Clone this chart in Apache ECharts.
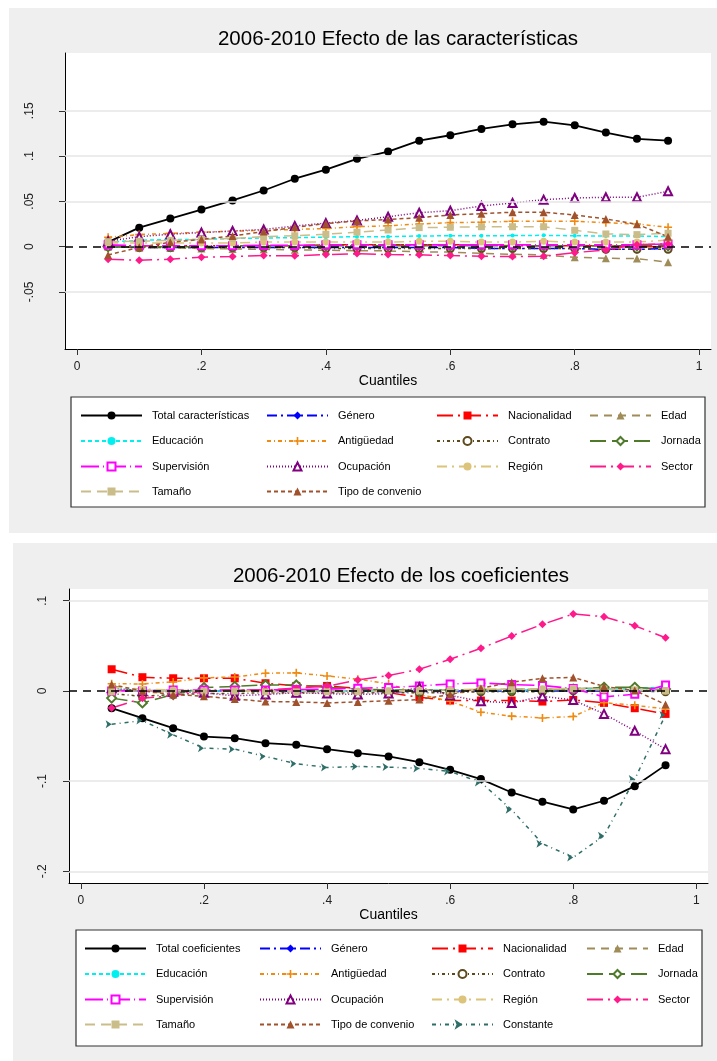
<!DOCTYPE html>
<html>
<head>
<meta charset="utf-8">
<script src="https://cdn.jsdelivr.net/npm/echarts@6/dist/echarts.min.js"></script>
<style>
  html, body { margin: 0; padding: 0; background: #ffffff; }
  #chart { width: 717px; height: 1061px; }
</style>
</head>
<body>
<div id="chart"></div>
<script>
// Quantiles at which each decomposition term is evaluated
const quantiles = [0.05, 0.10, 0.15, 0.20, 0.25, 0.30, 0.35, 0.40, 0.45, 0.50,
                   0.55, 0.60, 0.65, 0.70, 0.75, 0.80, 0.85, 0.90, 0.95];

const xTicks = [0, 0.2, 0.4, 0.6, 0.8, 1];
const yTicksTop = [-0.05, 0, 0.05, 0.1, 0.15];
const yTicksBottom = [-0.2, -0.1, 0, 0.1];

// ---- 2006-2010: effect of characteristics ----
const totalCar     = [0.005, 0.021, 0.031, 0.041, 0.051, 0.062, 0.075, 0.085, 0.097, 0.105, 0.117, 0.123, 0.130, 0.135, 0.138, 0.134, 0.126, 0.119, 0.117];
const generoCar    = [0.000, -0.001, -0.001, -0.001, -0.001, -0.001, -0.001, -0.001, -0.001, -0.001, -0.001, -0.001, -0.002, -0.002, -0.002, -0.002, -0.003, -0.003, -0.002];
const nacionCar    = [0.001, 0.001, 0.001, 0.001, 0.001, 0.001, 0.001, 0.002, 0.002, 0.002, 0.002, 0.002, 0.002, 0.001, 0.001, 0.001, 0.001, 0.000, 0.000];
const edadCar      = [0.000, -0.001, -0.0015, -0.002, -0.0025, -0.003, -0.0035, -0.004, -0.0045, -0.0047, -0.0058, -0.006, -0.0074, -0.0084, -0.0092, -0.0117, -0.0128, -0.0132, -0.0172];
const educCar      = [0.005, 0.007, 0.008, 0.008, 0.009, 0.0095, 0.010, 0.0105, 0.011, 0.011, 0.0118, 0.012, 0.012, 0.0122, 0.0125, 0.012, 0.0118, 0.0118, 0.011];
const antigCar     = [0.0104, 0.0133, 0.0147, 0.016, 0.017, 0.018, 0.019, 0.020, 0.022, 0.023, 0.025, 0.0265, 0.027, 0.028, 0.028, 0.028, 0.0265, 0.025, 0.0214];
const contratoCar  = [0.000, -0.001, -0.001, -0.001, -0.001, -0.001, -0.001, -0.002, -0.002, -0.002, -0.002, -0.002, -0.002, -0.002, -0.002, -0.002, -0.003, -0.003, -0.003];
const jornadaCar   = [0.000, 0.000, 0.000, 0.000, 0.001, 0.001, 0.001, 0.001, 0.001, 0.001, 0.001, 0.001, 0.001, 0.001, 0.001, 0.001, 0.001, 0.001, 0.001];
const supervCar    = [0.002, 0.001, 0.001, 0.001, 0.001, 0.0015, 0.0015, 0.002, 0.002, 0.002, 0.002, 0.002, 0.002, 0.002, 0.002, 0.002, 0.002, 0.002, 0.003];
const ocupCar      = [0.006, 0.011, 0.0137, 0.0155, 0.0173, 0.019, 0.0228, 0.026, 0.029, 0.033, 0.0375, 0.0397, 0.0449, 0.0482, 0.0519, 0.0537, 0.0545, 0.0545, 0.0611];
const regionCar    = [0.004, 0.004, 0.004, 0.004, 0.004, 0.005, 0.005, 0.005, 0.005, 0.005, 0.006, 0.006, 0.005, 0.005, 0.006, 0.005, 0.005, 0.005, 0.0074];
const sectorCar    = [-0.0139, -0.015, -0.0139, -0.0117, -0.011, -0.0099, -0.010, -0.0088, -0.0077, -0.0088, -0.009, -0.0099, -0.0106, -0.011, -0.0106, -0.0066, -0.0037, 0.0022, 0.003];
const tamanoCar    = [0.0055, 0.006, 0.007, 0.008, 0.009, 0.011, 0.012, 0.0137, 0.016, 0.0184, 0.021, 0.0214, 0.022, 0.022, 0.022, 0.018, 0.014, 0.0133, 0.0148];
const convenioCar  = [-0.0092, -0.0007, 0.0048, 0.008, 0.0118, 0.0166, 0.0214, 0.0254, 0.0284, 0.030, 0.032, 0.035, 0.0364, 0.038, 0.038, 0.035, 0.0306, 0.0247, 0.011];

// ---- 2006-2010: effect of coefficients ----
const totalCoef    = [-0.0192, -0.0302, -0.0413, -0.0506, -0.0524, -0.058, -0.0598, -0.0646, -0.069, -0.0727, -0.079, -0.0875, -0.0978, -0.1126, -0.1229, -0.1314, -0.1218, -0.1056, -0.0823];
const generoCoef   = [0.000, 0.000, 0.000, 0.000, 0.000, 0.000, 0.000, 0.000, 0.000, -0.001, -0.001, 0.000, 0.000, 0.000, 0.000, 0.000, 0.000, 0.000, 0.001];
const nacionCoef   = [0.024, 0.0152, 0.014, 0.014, 0.014, 0.0085, 0.0055, 0.0055, 0.003, -0.002, -0.007, -0.0107, -0.0107, -0.0107, -0.0118, -0.010, -0.0133, -0.0192, -0.0255];
const edadCoef     = [0.006, -0.002, -0.001, 0.000, 0.001, 0.001, 0.001, 0.001, 0.000, 0.000, 0.000, 0.001, 0.001, 0.002, 0.002, 0.003, 0.003, 0.004, 0.001];
const educCoef     = [0.001, 0.001, 0.000, 0.000, 0.000, 0.000, 0.000, 0.000, 0.000, 0.001, 0.001, 0.001, 0.001, 0.001, 0.001, 0.002, 0.002, 0.003, 0.004];
const antigCoef    = [0.008, 0.0077, 0.010, 0.0144, 0.0155, 0.0196, 0.020, 0.0166, 0.013, 0.008, -0.004, -0.0114, -0.0236, -0.028, -0.030, -0.0284, -0.013, -0.016, -0.020];
const contratoCoef = [-0.003, -0.006, -0.004, -0.003, -0.003, -0.002, -0.002, -0.002, -0.002, -0.002, -0.002, -0.002, -0.001, -0.001, -0.001, 0.000, 0.000, 0.000, -0.001];
const jornadaCoef  = [-0.008, -0.0133, -0.004, 0.0037, 0.005, 0.0066, 0.0066, 0.004, 0.002, 0.001, 0.001, 0.001, 0.001, 0.001, 0.001, 0.002, 0.004, 0.004, 0.002];
const supervCoef   = [0.000, 0.000, 0.001, 0.001, 0.001, 0.001, 0.0015, 0.002, 0.003, 0.0037, 0.0055, 0.0077, 0.0088, 0.007, 0.006, 0.0026, -0.0066, -0.0037, 0.0066];
const ocupCoef     = [0.003, 0.000, -0.001, -0.002, -0.0055, -0.004, -0.002, -0.003, -0.004, -0.003, 0.004, -0.005, -0.0115, -0.0133, -0.006, -0.010, -0.0255, -0.0443, -0.0646];
const regionCoef   = [0.004, 0.002, 0.001, 0.000, 0.000, 0.000, 0.000, 0.000, 0.000, 0.000, 0.001, 0.001, 0.002, 0.002, 0.002, 0.002, 0.001, 0.001, 0.000];
const sectorCoef   = [-0.019, -0.0081, -0.0052, 0.000, 0.001, 0.001, 0.003, 0.0052, 0.0122, 0.017, 0.024, 0.0351, 0.0473, 0.0609, 0.0738, 0.0853, 0.0823, 0.0723, 0.059];
const tamanoCoef   = [-0.001, 0.000, 0.000, 0.000, 0.000, -0.001, -0.001, -0.001, -0.001, 0.000, 0.000, 0.000, 0.001, 0.002, 0.002, 0.0026, 0.002, 0.001, 0.000];
const convenioCoef = [0.007, 0.000, -0.004, -0.006, -0.009, -0.0118, -0.0122, -0.0133, -0.0122, -0.011, -0.0096, -0.004, 0.003, 0.0096, 0.014, 0.015, 0.005, 0.0004, -0.015];
const constCoef    = [-0.0369, -0.0329, -0.0487, -0.0635, -0.0646, -0.0727, -0.0808, -0.0849, -0.0838, -0.0845, -0.086, -0.0893, -0.1015, -0.1318, -0.1694, -0.1846, -0.1606, -0.0978, -0.0266];

const FONT = '"Liberation Sans", Arial, Helvetica, sans-serif';
const plusPath = 'path://M4,0H6V4H10V6H6V10H4V6H0V4H4Z';

// Line / marker style for each decomposition term
const styles = {
  'Total':            { color: '#000000', dash: 'solid',         width: 1.8, symbol: 'circle',        size: 8 },
  'Género':           { color: '#0000ff', dash: [10, 4, 2, 4],   width: 1.5, symbol: 'diamond',       size: 9 },
  'Nacionalidad':     { color: '#ff0000', dash: [16, 5, 2, 5],   width: 1.5, symbol: 'rect',          size: 8 },
  'Edad':             { color: '#a08c58', dash: [8, 6],          width: 1.5, symbol: 'triangle',      size: 8 },
  'Educación':        { color: '#00f0f0', dash: [4, 3],          width: 1.5, symbol: 'circle',        size: 4 },
  'Antigüedad':       { color: '#f08a10', dash: [4, 3, 1, 3],    width: 1.5, symbol: plusPath,        size: 8 },
  'Contrato':         { color: '#5c4a1c', dash: [3, 3, 1, 3],    width: 1.5, symbol: 'emptyCircle',   size: 7 },
  'Jornada':          { color: '#4e7a2a', dash: [16, 6],         width: 1.5, symbol: 'emptyDiamond',  size: 9 },
  'Supervisión':      { color: '#ff00ff', dash: [18, 4, 1, 4],   width: 1.6, symbol: 'emptyRect',     size: 7 },
  'Ocupación':        { color: '#800080', dash: [1, 2],          width: 1.5, symbol: 'emptyTriangle', size: 8 },
  'Región':           { color: '#dcc47a', dash: [10, 5, 2, 5],   width: 1.5, symbol: 'circle',        size: 7 },
  'Sector':           { color: '#ff1a8c', dash: [16, 5, 2, 5],   width: 1.5, symbol: 'diamond',       size: 8 },
  'Tamaño':           { color: '#cabd8a', dash: [10, 6],         width: 1.5, symbol: 'rect',          size: 7 },
  'Tipo de convenio': { color: '#a0522d', dash: [4, 3],          width: 1.5, symbol: 'triangle',      size: 8 },
  'Constante':        { color: '#2e6e68', dash: [4, 4, 1, 4],    width: 1.5, symbol: 'arrow',         size: 6 }
};

function lineSeries(name, styleKey, values, gridIdx) {
  const s = styles[styleKey];
  return {
    name: name,
    type: 'line',
    xAxisIndex: gridIdx,
    yAxisIndex: gridIdx,
    data: quantiles.map((q, i) => [q, values[i]]),
    symbol: s.symbol,
    symbolSize: s.size,
    symbolRotate: styleKey === 'Constante' ? -90 : 0,
    showAllSymbol: true,
    animation: false,
    z: 3,
    lineStyle: { color: s.color, width: s.width, type: s.dash },
    itemStyle: { color: s.color, borderColor: s.color, borderWidth: s.symbol.indexOf('empty') === 0 ? 1.6 : 0 },
    emphasis: { disabled: true }
  };
}

// Reference lines (light grid + dashed zero line) drawn through each grid's y scale
function refLines(gridIdx, ticks) {
  const data = ticks.filter(v => v !== 0).map(v => ({ yAxis: v, lineStyle: { color: '#e6e6e6', width: 1.5, type: 'solid' } }));
  data.push({ yAxis: 0, lineStyle: { color: '#000000', width: 1.6, type: [8, 6] } });
  return {
    type: 'line', xAxisIndex: gridIdx, yAxisIndex: gridIdx, data: [], z: 2, silent: true, animation: false,
    markLine: { symbol: ['none', 'none'], silent: true, animation: false, label: { show: false }, data: data }
  };
}

const termsCar = [
  ['Total características', 'Total', totalCar],
  ['Género', 'Género', generoCar],
  ['Nacionalidad', 'Nacionalidad', nacionCar],
  ['Edad', 'Edad', edadCar],
  ['Educación', 'Educación', educCar],
  ['Antigüedad', 'Antigüedad', antigCar],
  ['Contrato', 'Contrato', contratoCar],
  ['Jornada', 'Jornada', jornadaCar],
  ['Supervisión', 'Supervisión', supervCar],
  ['Ocupación', 'Ocupación', ocupCar],
  ['Región', 'Región', regionCar],
  ['Sector', 'Sector', sectorCar],
  ['Tamaño', 'Tamaño', tamanoCar],
  ['Tipo de convenio', 'Tipo de convenio', convenioCar]
];
const termsCoef = [
  ['Total coeficientes', 'Total', totalCoef],
  ['Género', 'Género', generoCoef],
  ['Nacionalidad', 'Nacionalidad', nacionCoef],
  ['Edad', 'Edad', edadCoef],
  ['Educación', 'Educación', educCoef],
  ['Antigüedad', 'Antigüedad', antigCoef],
  ['Contrato', 'Contrato', contratoCoef],
  ['Jornada', 'Jornada', jornadaCoef],
  ['Supervisión', 'Supervisión', supervCoef],
  ['Ocupación', 'Ocupación', ocupCoef],
  ['Región', 'Región', regionCoef],
  ['Sector', 'Sector', sectorCoef],
  ['Tamaño', 'Tamaño', tamanoCoef],
  ['Tipo de convenio', 'Tipo de convenio', convenioCoef],
  ['Constante', 'Constante', constCoef]
];

const fmt = v => {
  if (v === 0) return '0';
  const s = String(Math.round(v * 100) / 100);
  return s.replace('0.', '.');
};

function xAxisDef(gridIdx, nameGap) {
  return {
    type: 'value', gridIndex: gridIdx, min: -0.0193, max: 1.019,
    name: 'Cuantiles', nameLocation: 'middle', nameGap: nameGap,
    nameTextStyle: { fontFamily: FONT, fontSize: 14, color: '#000' },
    axisLine: { show: true, onZero: false, lineStyle: { color: '#000', width: 1 } },
    axisTick: { show: true, length: 6, customValues: xTicks, lineStyle: { color: '#333', width: 1 } },
    axisLabel: { customValues: xTicks, formatter: fmt, fontFamily: FONT, fontSize: 12, color: '#222', margin: 12 },
    splitLine: { show: false }
  };
}
function yAxisDef(gridIdx, min, max, ticks, margin) {
  return {
    type: 'value', gridIndex: gridIdx, min: min, max: max,
    axisLine: { show: true, onZero: false, lineStyle: { color: '#000', width: 1 } },
    axisTick: { show: true, length: 6, customValues: ticks, lineStyle: { color: '#333', width: 1 } },
    axisLabel: { customValues: ticks, formatter: fmt, rotate: 90, fontFamily: FONT, fontSize: 12, color: '#222', margin: margin },
    splitLine: { show: false }
  };
}

// One legend per key entry so the key sits on a fixed 4-column grid
function legendItem(name, left, centerY) {
  return {
    orient: 'horizontal', left: left, top: centerY - 5, padding: 0, data: [name],
    itemWidth: 61, itemHeight: 10, itemGap: 0, selectedMode: false,
    textStyle: { fontFamily: FONT, fontSize: 11, color: '#000', padding: [0, 0, 0, 5] }
  };
}

const keyTop = [
  ['Total características', 'Educación', 'Supervisión', 'Tamaño'],
  ['Género', 'Antigüedad', 'Ocupación', 'Tipo de convenio'],
  ['Nacionalidad', 'Contrato', 'Región'],
  ['Edad', 'Jornada', 'Sector']
];
const keyBottom = [
  ['Total coeficientes', 'Educación', 'Supervisión', 'Tamaño'],
  ['Género', 'Antigüedad', 'Ocupación', 'Tipo de convenio'],
  ['Nacionalidad', 'Contrato', 'Región', 'Constante'],
  ['Edad', 'Jornada', 'Sector']
];
const legends = [];
const colXTop = [80, 266, 436, 589], rowYTop = [415, 440.5, 466, 491];
const colXBottom = [84, 259, 431, 586], rowYBottom = [948, 973.5, 999, 1024];
keyTop.forEach((col, c) => col.forEach((n, r) => legends.push(legendItem(n, colXTop[c], rowYTop[r]))));
keyBottom.forEach((col, c) => col.forEach((n, r) => legends.push(legendItem(n, colXBottom[c], rowYBottom[r]))));

const series = [];
series.push(refLines(0, yTicksTop));
series.push(refLines(1, yTicksBottom));
termsCar.forEach(t => series.push(lineSeries(t[0], t[1], t[2], 0)));
termsCoef.forEach(t => series.push(lineSeries(t[0], t[1], t[2], 1)));

const option = {
  backgroundColor: '#ffffff',
  animation: false,
  textStyle: { fontFamily: FONT },
  graphic: [
    { type: 'rect', z: -10, shape: { x: 9, y: 8, width: 708, height: 525 }, style: { fill: '#efefef' } },
    { type: 'rect', z: -10, shape: { x: 13, y: 543, width: 704, height: 518 }, style: { fill: '#efefef' } },
    { type: 'rect', z: -5, shape: { x: 71, y: 397, width: 634, height: 110 }, style: { fill: '#ffffff', stroke: '#333', lineWidth: 1.2 } },
    { type: 'rect', z: -5, shape: { x: 76, y: 930, width: 626, height: 116 }, style: { fill: '#ffffff', stroke: '#333', lineWidth: 1.2 } }
  ],
  title: [
    { text: '2006-2010 Efecto de las características', left: 393, top: 24, textAlign: 'center',
      textStyle: { fontFamily: FONT, fontSize: 20.5, fontWeight: 'normal', color: '#000' } },
    { text: '2006-2010 Efecto de los coeficientes', left: 396, top: 561, textAlign: 'center',
      textStyle: { fontFamily: FONT, fontSize: 20.5, fontWeight: 'normal', color: '#000' } }
  ],
  grid: [
    { left: 65, top: 53, width: 646, height: 296, show: true, backgroundColor: '#ffffff', borderWidth: 0 },
    { left: 69, top: 589, width: 639, height: 294, show: true, backgroundColor: '#ffffff', borderWidth: 0 }
  ],
  xAxis: [xAxisDef(0, 25), xAxisDef(1, 24)],
  yAxis: [
    yAxisDef(0, -0.113, 0.2138, yTicksTop, 29),
    yAxisDef(1, -0.213, 0.113, yTicksBottom, 20)
  ],
  legend: legends,
  series: series
};

const chart = echarts.init(document.getElementById('chart'), null, { renderer: 'canvas' });
chart.setOption(option);
</script>
</body>
</html>
